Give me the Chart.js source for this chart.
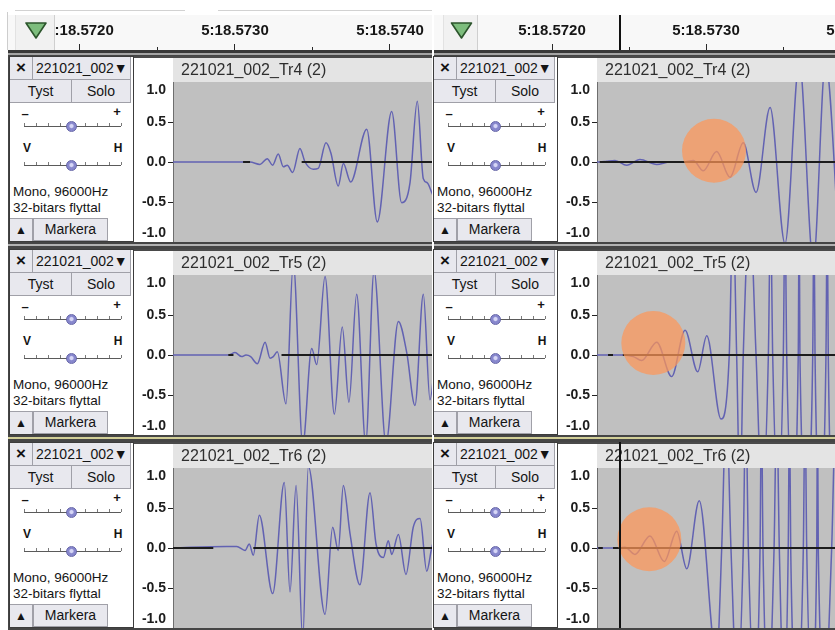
<!DOCTYPE html>
<html>
<head>
<meta charset="utf-8">
<title>221021_002 Tr4–Tr6</title>
<script src="https://cdn.jsdelivr.net/npm/chart.js@4.4.1/dist/chart.umd.min.js"></script>
<style>
  html, body { margin:0; padding:0; width:835px; height:630px; overflow:hidden; background:#fff; }
  #stage { position:relative; width:835px; height:630px; overflow:hidden;
           font-family:"Liberation Sans", Arial, sans-serif; color:#141414; }
  .a { position:absolute; box-sizing:border-box; }
  canvas.a { display:block; }
</style>
</head>
<body>
<div id="stage"></div>
<script>
const FONT = '"Liberation Sans", Arial, sans-serif';
Chart.defaults.font.family = FONT;

// ---- time ruler (values in ms after 5:18.5700) ----
const rulerTickMs  = [1.5, 2.0, 2.5, 3.0, 3.5, 4.0];
const rulerLabelMs = [2.0, 3.0, 4.0];
const rulerLabels  = ['5:18.5720', '5:18.5730', '5:18.5740'];

// ---- amplitude scale ----
const ampTicks  = [-1, -0.5, 0, 0.5, 1];
const ampLabels = ['-1.0', '-0.5', '0.0', '0.5', '1.0'];

// ---- track texts ----
const trackTitles = ['221021_002_Tr4 (2)', '221021_002_Tr5 (2)', '221021_002_Tr6 (2)'];
const clipName    = '221021_002';
const formatLines = ['Mono, 96000Hz', '32-bitars flyttal'];
const buttonText  = ['Tyst', 'Solo', 'Markera'];
const gainSigns   = ['\u2013', '+'];
const panLetters  = ['V', 'H'];

// ---- left view: waveform turning points (ms, amplitude) ----
const leftTr4Ms  = [2.600, 3.052, 3.097, 3.161, 3.208, 3.243, 3.279, 3.312, 3.337, 3.372, 3.419, 3.452, 3.505, 3.537, 3.587, 3.619, 3.666, 3.699, 3.746, 3.850, 3.918, 4.011, 4.075, 4.129, 4.176, 4.215, 4.241, 4.269, 4.297];
const leftTr4Amp = [0, 0, 0, -0.03, 0.04, -0.04, 0.10, -0.06, -0.04, -0.13, 0.17, 0, -0.09, -0.08, 0.24, 0.11, -0.30, -0.02, -0.25, 0.41, -0.75, 0.63, -0.51, -0.26, 0.76, -0.21, -0.26, -0.38, -0.5];

const leftTr5Ms  = [2.600, 2.774, 2.957, 3.000, 3.043, 3.071, 3.101, 3.144, 3.194, 3.226, 3.247, 3.273, 3.329, 3.376, 3.437, 3.495, 3.527, 3.581, 3.641, 3.692, 3.735, 3.785, 3.843, 3.897, 3.974, 4.054, 4.108, 4.161, 4.215, 4.258, 4.297];
const leftTr5Amp = [0, 0, 0, 0.03, -0.02, 0, -0.02, -0.11, 0.16, -0.04, -0.02, 0.04, -0.61, 1.15, -1.12, 0.08, -0.12, 0.98, -0.74, 0.35, -0.59, 0.76, -1.1, 1.05, -1.1, 0.42, 0.03, -0.63, 0.76, -0.56, 0.1];

const leftTr6Ms  = [2.600, 2.946, 3.011, 3.065, 3.092, 3.118, 3.157, 3.243, 3.318, 3.355, 3.394, 3.437, 3.473, 3.581, 3.630, 3.666, 3.699, 3.742, 3.806, 3.871, 3.910, 3.957, 3.989, 4.011, 4.054, 4.103, 4.150, 4.194, 4.237, 4.269, 4.297];
const leftTr6Amp = [0, 0.02, 0.02, -0.03, 0.05, -0.09, 0.41, -0.57, 0.82, -0.55, 0.78, -1.15, 1.02, -0.83, 0.26, -0.03, 0.78, 0.18, -0.46, 0.69, 0.05, -0.12, 0.09, -0.08, 0.17, -0.33, 0.26, 0.37, -0.29, 0, 0.2];

// ---- right view ----
const rightTr4Ms  = [2.292, 2.312, 2.355, 2.409, 2.485, 2.571, 2.680, 2.766, 2.853, 2.918, 2.982, 3.069, 3.156, 3.242, 3.325, 3.416, 3.513, 3.606, 3.697, 3.776, 3.870];
const rightTr4Amp = [0, 0, 0.01, 0.02, -0.04, 0.03, -0.03, 0, 0, 0.02, -0.11, 0.13, -0.19, 0.24, -0.38, 0.68, -1.02, 1.25, -1.25, 1.25, -1.25];

const rightTr5Ms  = [2.292, 2.398, 2.463, 2.528, 2.582, 2.680, 2.777, 2.864, 2.946, 3.005, 3.097, 3.151, 3.175, 3.199, 3.221, 3.242, 3.284, 3.325, 3.364, 3.405, 3.419, 3.433, 3.468, 3.502, 3.513, 3.524, 3.562, 3.599, 3.605, 3.610, 3.652, 3.693, 3.701, 3.708, 3.744, 3.779, 3.787, 3.794, 3.825, 3.870];
const rightTr5Amp = [0, 0, 0, -0.02, -0.07, 0.16, -0.27, 0.31, -0.21, 0.24, -0.80, 0, 1.8, 0, -1.8, 0, 1.8, 0, -1.8, 0, 1.8, 0, -1.8, 0, 1.8, 0, -1.8, 0, 1.8, 0, -1.8, 0, 1.8, 0, -1.8, 0, 1.8, 0, -1.8, 0];

const rightTr6Ms  = [2.292, 2.442, 2.474, 2.539, 2.636, 2.729, 2.810, 2.875, 2.956, 3.069, 3.102, 3.132, 3.162, 3.203, 3.242, 3.258, 3.275, 3.313, 3.351, 3.360, 3.370, 3.406, 3.442, 3.459, 3.476, 3.505, 3.534, 3.542, 3.550, 3.591, 3.632, 3.643, 3.654, 3.686, 3.719, 3.724, 3.729, 3.773, 3.816, 3.844, 3.870];
const rightTr6Amp = [0, 0, 0.01, -0.08, 0.15, -0.17, 0.21, -0.26, 0.59, -1.4, 0, 1.8, 0, -1.8, 0, 1.8, 0, -1.8, 0, 1.8, 0, -1.8, 0, 1.8, 0, -1.8, 0, 1.8, 0, -1.8, 0, 1.8, 0, -1.8, 0, 1.8, 0, -1.8, 0, 1.8, 0];

// dark centre-line pieces per track, [from, to] in ms
const leftZeroSegs  = [[[3.052, 3.097], [3.43, 4.3]], [[2.957, 2.99], [3.30, 4.3]], [[2.6, 2.86], [3.118, 4.3]]];
const rightZeroSegs = [[[2.31, 4.1]], [[2.364, 2.396], [2.46, 4.1]], [[2.30, 2.33], [2.396, 4.1]]];

// highlighted onsets and play cursor in the right view
const rightMarkMs  = [3.052, 2.658, 2.632];
const rightMarkAmp = [0.14, 0.15, 0.11];
const rightCursorMs = 2.442;

const trackTops = [55, 248, 441];

const views = [
  { off: 0,   left: 8,   right: 432, waveLeft: 173, waveRight: 432, pxPerMs: 155, waveStartMs: 2.6,
    btnX: 15, btnW: 40,
    tracks: [[leftTr4Ms, leftTr4Amp], [leftTr5Ms, leftTr5Amp], [leftTr6Ms, leftTr6Amp]],
    zero: leftZeroSegs, marks: null, cursor: null },
  { off: 424, left: 434, right: 870, waveLeft: 597, waveRight: 870, pxPerMs: 154, waveStartMs: 2.2922,
    btnX: 443, btnW: 35,
    tracks: [[rightTr4Ms, rightTr4Amp], [rightTr5Ms, rightTr5Amp], [rightTr6Ms, rightTr6Amp]],
    zero: rightZeroSegs, marks: [rightMarkMs, rightMarkAmp], cursor: rightCursorMs }
];

const WAVE = 'rgb(98,98,178)';
const stage = document.getElementById('stage');

function el(tag, x, y, w, h, css, text, parent) {
  const e = document.createElement(tag);
  e.className = 'a';
  e.style.cssText = `left:${x}px;top:${y}px;width:${w}px;height:${h}px;` + (css || '');
  if (text != null) e.textContent = text;
  (parent || stage).appendChild(e);
  return e;
}
function canvasAt(x, y, w, h, z) {
  const c = el('canvas', x, y, w, h, `z-index:${z};`);
  c.width = w; c.height = h;
  return c;
}

// ---- track control panel ----
const CELL = 'background:#e8e8ee;border:0 solid #a0a0a8;text-align:center;';
function slider(p, y) {
  el('div', 14, y, 97, 1, 'background:#5a5a5a', null, p);
  for (let i = 0; i <= 8; i++) el('div', 14 + Math.round(i * 12.1), y - 3, 1, 3, 'background:#7a7a7a', null, p);
  el('div', 56, y - 5, 11, 11,
     'border-radius:50%;background:radial-gradient(circle at 50% 45%, #d6d6f6 0 22%, #8787cd 40%);border:1px solid #6666a8', null, p);
}
function controls(O, T) {
  const p = el('div', O + 9, T + 1, 125, 186, 'background:#fff;border:1px solid #3c3c3c;z-index:2;');
  el('div', 0, 0, 23, 23, CELL + 'border-right-width:1px;border-bottom-width:1px;font:bold 17px/22px ' + FONT, '\u00d7', p);
  el('div', 23, 0, 98, 23, CELL + 'text-align:left;padding-left:3px;border-bottom-width:1px;border-right-width:1px;white-space:nowrap;font:14px/23px ' + FONT, clipName + '\u25bc', p);
  el('div', 0, 23, 62, 23, CELL + 'border-right-width:1px;border-bottom-width:1px;font:14px/22px ' + FONT, buttonText[0], p);
  el('div', 62, 23, 59, 23, CELL + 'border-bottom-width:1px;border-right-width:1px;font:14px/22px ' + FONT, buttonText[1], p);
  el('div', 9, 49, 12, 16, 'text-align:center;font:bold 13px/16px ' + FONT, gainSigns[0], p);
  el('div', 101, 47, 12, 16, 'text-align:center;font:bold 13px/16px ' + FONT, gainSigns[1], p);
  slider(p, 69);
  el('div', 11, 83, 12, 16, 'text-align:center;font:bold 12px/16px ' + FONT, panLetters[0], p);
  el('div', 102, 83, 12, 16, 'text-align:center;font:bold 12px/16px ' + FONT, panLetters[1], p);
  slider(p, 108);
  el('div', 3, 126, 118, 17, 'white-space:nowrap;font:13.5px/17px ' + FONT, formatLines[0], p);
  el('div', 3, 142, 118, 17, 'white-space:nowrap;font:13.5px/17px ' + FONT, formatLines[1], p);
  el('div', 0, 161, 23, 23, CELL + 'border-top-width:1px;border-right-width:1px;font:12px/22px ' + FONT, '\u25b2', p);
  el('div', 23, 161, 75, 23, CELL + 'border-width:1px;font:14px/21px ' + FONT, buttonText[2], p);
}

// ---- time ruler chart ----
function rulerChart(v) {
  const w = v.right - v.left;
  const cv = canvasAt(v.left, 15, w, 37, 1);
  const minMs = v.waveStartMs - (v.waveLeft - v.left) / v.pxPerMs;
  const maxMs = v.waveStartMs + (v.waveRight - v.waveLeft) / v.pxPerMs;
  new Chart(cv, {
    type: 'line',
    data: { datasets: [] },
    options: {
      responsive: false, animation: false, events: [],
      layout: { padding: 0 },
      plugins: { legend: { display: false }, tooltip: { enabled: false } },
      scales: {
        x: {
          type: 'linear', position: 'top', min: minMs, max: maxMs,
          afterBuildTicks: s => { s.ticks = rulerTickMs.filter(t => t >= s.min && t <= s.max).map(t => ({ value: t })); },
          afterFit: s => { s.height = 35; s.paddingLeft = 0; s.paddingRight = 0; },
          ticks: {
            autoSkip: false, maxRotation: 0, minRotation: 0, padding: 4, color: '#161616',
            font: { family: FONT, size: 15, weight: 'bold' },
            callback: value => {
              const i = rulerLabelMs.findIndex(t => Math.abs(t - value) < 1e-6);
              return i < 0 ? '' : rulerLabels[i];
            }
          },
          grid: {
            drawOnChartArea: false, drawTicks: true, tickLength: 6, tickWidth: 1, tickColor: '#2a2a2a',
            tickBorderDash: ctx => (rulerLabelMs.some(t => Math.abs(t - ctx.tick.value) < 1e-6) ? [] : [0, 3, 3])
          },
          border: { display: false }
        },
        y: { display: false, min: 0, max: 1 }
      }
    },
    plugins: [{
      id: 'rulerFace',
      beforeDraw(c) {
        const g = c.ctx;
        g.save(); g.fillStyle = '#f8f8f8'; g.fillRect(0, 0, c.width, c.height); g.restore();
      },
      afterDraw(c) {
        if (v.cursor == null) return;
        const g = c.ctx, x = Math.round(c.scales.x.getPixelForValue(v.cursor));
        g.save(); g.fillStyle = '#111'; g.fillRect(x - 1, 0, 2, 35); g.restore();
      }
    }]
  });
}

// ---- one waveform track chart (amplitude scale + wave area) ----
function waveChart(v, k) {
  const T = trackTops[k];
  const x0 = v.off + 133;
  const cv = canvasAt(x0, T + 1, v.waveRight - x0, 186, 1);
  const [ms, amp] = v.tracks[k];
  const samples = ms.map((t, i) => ({ x: t, y: amp[i] }));
  const centre = [];
  v.zero[k].forEach(([a, b], i) => {
    if (i) centre.push({ x: a - 0.001, y: null });
    centre.push({ x: a, y: 0 }, { x: b, y: 0 });
  });
  const maxMs = v.waveStartMs + (v.waveRight - v.waveLeft) / v.pxPerMs;
  new Chart(cv, {
    type: 'line',
    data: {
      datasets: [
        { data: centre, borderColor: '#1c1c1c', borderWidth: 2, pointRadius: 0, spanGaps: false, clip: 0, order: 1 },
        { data: samples, borderColor: WAVE, borderWidth: 1.5, pointRadius: 0, cubicInterpolationMode: 'monotone', clip: 0, order: 2 }
      ]
    },
    options: {
      responsive: false, animation: false, events: [],
      layout: { padding: { top: 26, left: 0, right: 0, bottom: 0 } },
      plugins: { legend: { display: false }, tooltip: { enabled: false } },
      scales: {
        x: { type: 'linear', display: false, min: v.waveStartMs, max: maxMs },
        y: {
          type: 'linear', min: -1, max: 1,
          afterFit: s => { s.width = 40; s.paddingTop = 0; s.paddingBottom = 0; },
          afterBuildTicks: s => { s.ticks = ampTicks.map(t => ({ value: t })); },
          ticks: {
            autoSkip: false, padding: 2, color: '#1c1c1c',
            font: { family: FONT, size: 14, weight: 'bold' },
            callback: value => {
              const s = ampLabels[ampTicks.indexOf(value)];
              return value === 1 ? ['', s] : value === -1 ? [s, ''] : s;
            }
          },
          grid: {
            drawOnChartArea: false, drawTicks: true, tickLength: 5, tickWidth: 1,
            tickColor: ctx => (Math.abs(ctx.tick.value) === 1 ? 'rgba(0,0,0,0)' : '#222')
          },
          border: { display: true, color: '#6e6e6e', width: 1 }
        }
      }
    },
    plugins: [{
      id: 'trackFace',
      beforeDraw(c) {
        const g = c.ctx, a = c.chartArea;
        g.save();
        g.fillStyle = '#fff'; g.fillRect(0, 0, c.width, c.height);
        g.fillStyle = '#4a4a4a'; g.fillRect(0, 0, c.width, 2);
        g.fillStyle = '#e4e4e4'; g.fillRect(a.left, 2, a.right - a.left, a.top - 2);
        g.fillStyle = '#c0c0c0'; g.fillRect(a.left, a.top, a.right - a.left, a.bottom - a.top);
        g.fillStyle = '#2e2e2e'; g.font = '16px ' + FONT; g.textBaseline = 'middle';
        g.fillText(trackTitles[k], a.left + 8, 14.5);
        g.restore();
      },
      afterDraw(c) {
        const g = c.ctx;
        g.save();
        if (v.marks) {
          const cx = c.scales.x.getPixelForValue(v.marks[0][k]);
          const cy = c.scales.y.getPixelForValue(v.marks[1][k]);
          g.fillStyle = 'rgba(253,150,88,0.72)';
          g.beginPath(); g.arc(cx, cy, 32, 0, Math.PI * 2); g.fill();
        }
        if (v.cursor != null && k === 2) {
          const x = Math.round(c.scales.x.getPixelForValue(v.cursor));
          g.fillStyle = '#111'; g.fillRect(x - 1, 0, 2, c.height);
        }
        g.restore();
      }
    }]
  });
}

// ---- page furniture ----
el('div', 15, 10, 170, 1, 'background:#d2d2d2');
el('div', 218, 10, 214, 1, 'background:#d2d2d2');
el('div', 7, 12, 1, 38, 'background:#cdcdcd');

views.forEach(v => {
  const w = v.right - v.left;
  el('div', v.left, 50, w, 580, 'background:#454545;z-index:0;');
  rulerChart(v);
  el('div', v.left, 50, w, 3, 'background:#383838;z-index:3;');
  el('div', v.left, 53, w, 2, 'background:#a4a4a4;z-index:3;');
  const b = el('div', v.btnX, 15, v.btnW, 35, 'background:#f1f1f1;border-left:1px solid #e2e2e2;border-right:1px solid #cfcfcf;z-index:3;');
  b.innerHTML = `<svg width="${v.btnW}" height="35" style="position:absolute;left:0;top:0">
    <polygon points="${v.btnW / 2 - 10},8 ${v.btnW / 2 + 10},8 ${v.btnW / 2},23" fill="#7dbd7d" stroke="#2c552c" stroke-width="1.6" stroke-linejoin="round"/></svg>`;
  trackTops.forEach((T, k) => {
    if (k) el('div', v.left, T - 4, w, 2, `background:${k === 2 ? '#d2cf98' : '#b2b2b2'};z-index:0;`);
    controls(v.off, T);
    waveChart(v, k);
  });
});
</script>
</body>
</html>
